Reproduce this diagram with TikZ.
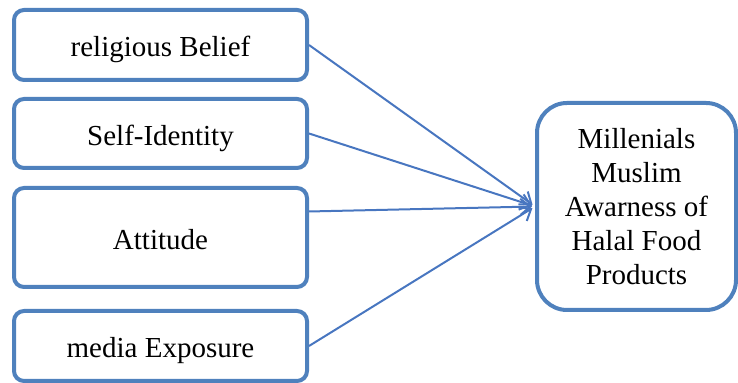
\documentclass[tikz,border=0pt]{standalone}
\usepackage{fontspec}
\setmainfont{Liberation Serif}
\usepackage{tikz}
\usetikzlibrary{
  arrows.meta,
  positioning
}
\definecolor{boxblue}{RGB}{79,129,189}
\definecolor{lineblue}{RGB}{72,118,192}

\begin{document}
\begin{tikzpicture}[
  factor/.style={rectangle, draw=boxblue, line width=2pt, rounded corners=5pt, minimum width=146.5pt, minimum height=35pt, inner sep=2pt, text height=12pt, text depth=0pt, font=\fontsize{14.5}{17}\selectfont},
  outcome/.style={rectangle, draw=boxblue, line width=2pt, rounded corners=15pt, minimum width=99.5pt, minimum height=103.5pt, inner sep=2pt, align=center, text depth=-4pt, font=\fontsize{14.5}{17}\selectfont},
  link/.style={-{Straight Barb[length=5pt, width=8pt]}, draw=lineblue, line width=1pt, shorten >=1.5pt},
]
\useasboundingbox (0,0) rectangle (369pt,191.5pt);

% Nodes
\node[factor] (rel) at (80.25pt,169pt) {religious Belief};
\node[factor, below=7.5pt of rel, minimum height=34.5pt] (self) {Self-Identity};
\node[factor, below=8pt of self, minimum height=49.5pt] (att) {Attitude};
\node[factor, below=10pt of att] (media) {media Exposure};
\node[outcome] (aware) at (318.25pt,88.25pt) {Millenials\\Muslim\\Awarness of\\Halal Food\\Products};

% Arrows
\draw[link] (rel.east) -- (aware.west);
\draw[link] (self.east) -- (aware.west);
\draw[link] ([yshift=13pt]att.east) -- (aware.west);
\draw[link] (media.east) -- (aware.west);
\end{tikzpicture}
\end{document}
